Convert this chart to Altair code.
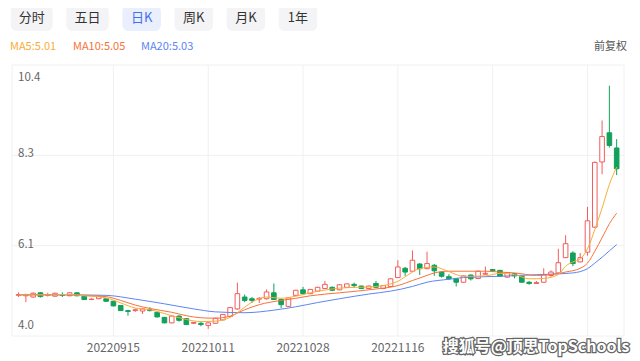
import altair as alt
import pandas as pd

# ---------------- data ----------------
idx = list(range(83))
opens = [4.96, 4.95, 4.92, 5.02, 4.96, 4.94, 4.98, 4.95, 5.02, 4.94,
         4.86, 4.88, 4.88, 4.82, 4.72, 4.60, 4.60, 4.59, 4.62, 4.56,
         4.44, 4.31, 4.47, 4.41, 4.30, 4.30, 4.25, 4.30, 4.38, 4.46,
         4.64, 4.92, 4.88, 4.87, 4.88, 5.02, 4.86, 4.70, 4.96, 5.09,
         5.00, 5.06, 5.12, 5.15, 5.09, 5.15, 5.22, 5.18, 5.12, 5.24,
         5.12, 5.17, 5.38, 5.60, 5.53, 5.70, 5.59, 5.67, 5.51, 5.40,
         5.35, 5.27, 5.44, 5.36, 5.46, 5.57, 5.55, 5.39, 5.47, 5.41,
         5.27, 5.24, 5.27, 5.43, 5.49, 5.85, 5.96, 5.75, 5.98, 6.57,
         8.11, 8.80, 8.44]
closes = [4.98, 4.97, 5.01, 4.93, 4.97, 5.01, 4.96, 5.02, 4.95, 4.86,
          4.87, 4.94, 4.82, 4.71, 4.60, 4.58, 4.62, 4.64, 4.60, 4.45,
          4.31, 4.47, 4.37, 4.27, 4.32, 4.27, 4.31, 4.42, 4.51, 4.67,
          5.00, 4.84, 4.84, 4.89, 5.04, 4.86, 4.74, 4.90, 5.08, 5.00,
          5.10, 5.15, 5.22, 5.08, 5.21, 5.23, 5.19, 5.12, 5.18, 5.15,
          5.19, 5.35, 5.63, 5.51, 5.79, 5.59, 5.71, 5.54, 5.41, 5.35,
          5.27, 5.42, 5.35, 5.53, 5.48, 5.54, 5.41, 5.50, 5.42, 5.27,
          5.24, 5.26, 5.45, 5.51, 5.73, 6.18, 5.71, 5.85, 6.72, 8.10,
          8.71, 8.50, 7.95]
highs = [5.03, 5.00, 5.03, 5.04, 5.02, 5.02, 5.03, 5.03, 5.03, 4.95,
         4.89, 4.95, 4.89, 4.83, 4.73, 4.62, 4.65, 4.66, 4.68, 4.57,
         4.45, 4.48, 4.49, 4.42, 4.33, 4.33, 4.32, 4.43, 4.52, 4.68,
         5.26, 4.98, 4.92, 4.92, 5.10, 5.24, 4.88, 4.91, 5.09, 5.16,
         5.11, 5.16, 5.30, 5.17, 5.22, 5.24, 5.26, 5.19, 5.19, 5.30,
         5.20, 5.36, 5.79, 5.63, 6.02, 5.72, 5.99, 5.70, 5.53, 5.46,
         5.36, 5.43, 5.45, 5.54, 5.64, 5.58, 5.56, 5.51, 5.49, 5.42,
         5.30, 5.30, 5.60, 5.55, 6.06, 6.38, 6.00, 5.96, 7.05, 8.12,
         9.09, 9.91, 8.65]
lows = [4.92, 4.80, 4.90, 4.91, 4.93, 4.93, 4.92, 4.94, 4.94, 4.85,
        4.85, 4.87, 4.81, 4.70, 4.59, 4.48, 4.57, 4.52, 4.58, 4.44,
        4.30, 4.30, 4.34, 4.26, 4.29, 4.23, 4.17, 4.29, 4.37, 4.45,
        4.62, 4.80, 4.78, 4.78, 4.86, 4.85, 4.66, 4.69, 4.94, 4.98,
        4.99, 5.05, 5.11, 5.06, 5.08, 5.14, 5.14, 5.11, 5.11, 5.14,
        5.11, 5.16, 5.37, 5.42, 5.52, 5.44, 5.58, 5.42, 5.38, 5.32,
        5.17, 5.26, 5.31, 5.35, 5.44, 5.51, 5.40, 5.38, 5.36, 5.26,
        5.21, 5.23, 5.26, 5.40, 5.48, 5.84, 5.65, 5.74, 5.90, 6.55,
        7.82, 8.45, 7.80]

ma5_i = [0, 4, 7, 9, 12, 14, 16, 18, 21, 23, 25, 27, 29, 31, 32, 34, 36, 38, 40,
         44, 49, 52, 53, 55, 57, 59, 61, 64, 66, 68, 70, 72, 74, 75, 76, 77, 78,
         79, 80, 81, 82]
ma5_v = [4.97, 4.97, 4.98, 4.95, 4.90, 4.78, 4.66, 4.62, 4.48, 4.39, 4.34, 4.35,
         4.44, 4.68, 4.80, 4.92, 4.89, 4.94, 5.02, 5.13, 5.17, 5.29, 5.40, 5.59,
         5.63, 5.52, 5.41, 5.42, 5.48, 5.45, 5.35, 5.36, 5.45, 5.65, 5.75, 5.82,
         6.06, 6.51, 7.02, 7.58, 7.99]
ma10_i = [0, 6, 10, 12, 14, 16, 18, 21, 23, 25, 27, 29, 31, 33, 36, 38, 40, 44, 49,
          52, 54, 56, 57, 59, 64, 66, 68, 71, 73, 75, 77, 78, 79, 80, 81, 82]
ma10_v = [4.98, 4.98, 4.95, 4.93, 4.84, 4.73, 4.65, 4.56, 4.48, 4.43, 4.42, 4.47,
          4.62, 4.74, 4.84, 4.89, 4.95, 5.02, 5.11, 5.19, 5.31, 5.43, 5.49, 5.53,
          5.53, 5.51, 5.49, 5.43, 5.45, 5.51, 5.60, 5.72, 6.00, 6.32, 6.65, 6.90]
ma20_i = [0, 8, 12, 16, 20, 24, 27, 31, 35, 38, 41, 44, 48, 51, 54, 56, 59, 61, 66,
          70, 73, 76, 77, 78, 79, 80, 81, 82]
ma20_v = [4.97, 4.97, 4.96, 4.87, 4.76, 4.64, 4.57, 4.55, 4.61, 4.69, 4.79, 4.88,
          4.99, 5.06, 5.17, 5.27, 5.34, 5.38, 5.41, 5.44, 5.46, 5.49, 5.52, 5.59,
          5.72, 5.86, 6.01, 6.16]

y_grid = [4.0, 6.1333, 8.2667, 10.4]
y_mid_labels = ["6.1", "8.3"]
y_top_label = "10.4"
y_bottom_label = "4.0"
x_grid_idx = [13, 26, 39, 52, 65, 78]
x_label_idx = [13, 26, 39, 52]
x_labels = ["20220915", "20221011", "20221028", "20221116"]

buttons = ["分时", "五日", "日K", "周K", "月K", "1年"]
selected_button = "日K"
legend_items = ["MA5:5.01", "MA10:5.05", "MA20:5.03"]
right_note = "前复权"
watermark = "搜狐号@顶思TopSchools"

# ---------------- style ----------------
RED = "#f45b5b"
GREEN = "#10a15a"
C_MA5 = "#f8ad3a"
C_MA10 = "#f7733a"
C_MA20 = "#5b86f5"
GRID = "#f0f0f0"
LABEL = "#666666"
FONT = "Noto Sans CJK SC"

W, H = 612, 271
xs = alt.Scale(domain=[-0.216, 82.32], nice=False, zero=False)
ys = alt.Scale(domain=[4.0, 10.4], nice=False, zero=False)
X = lambda f: alt.X(f, scale=xs, axis=None)
Y = lambda f: alt.Y(f, scale=ys, axis=None)

one = pd.DataFrame({"k": [0]})

# grid
hgrid = alt.Chart(pd.DataFrame({"v": y_grid})).mark_rule(color=GRID, strokeWidth=1).encode(y=Y("v:Q"))
vgrid = alt.Chart(pd.DataFrame({"i": x_grid_idx})).mark_rule(color=GRID, strokeWidth=1).encode(x=X("i:Q"))
lborder = alt.Chart(one).mark_rule(color=GRID).encode(x=alt.value(0), y=alt.value(0), y2=alt.value(H))
rborder = alt.Chart(one).mark_rule(color=GRID).encode(x=alt.value(W), y=alt.value(0), y2=alt.value(H))

# candles
cd = pd.DataFrame({"i": idx, "open": opens, "close": closes, "high": highs, "low": lows})
cd["dir"] = ["up" if c >= o else "down" for o, c in zip(opens, closes)]
base = alt.Chart(cd)
wick = base.mark_rule(strokeWidth=1).encode(
    x=X("i:Q"), y=Y("low:Q"), y2="high:Q",
    color=alt.Color("dir:N", scale=alt.Scale(domain=["up", "down"], range=[RED, GREEN]), legend=None),
)
up_body = base.transform_filter("datum.dir == 'up'").mark_bar(
    size=4.6, fill="white", stroke=RED, strokeWidth=1
).encode(x=X("i:Q"), y=Y("open:Q"), y2="close:Q")
down_body = base.transform_filter("datum.dir == 'down'").mark_bar(
    size=4.6, fill=GREEN, stroke=GREEN, strokeWidth=1
).encode(x=X("i:Q"), y=Y("open:Q"), y2="close:Q")

# moving averages
def ma_line(ii, vv, col):
    return alt.Chart(pd.DataFrame({"i": ii, "v": vv})).mark_line(
        color=col, strokeWidth=1, interpolate="monotone"
    ).encode(x=X("i:Q"), y=Y("v:Q"))

ma5 = ma_line(ma5_i, ma5_v, C_MA5)
ma10 = ma_line(ma10_i, ma10_v, C_MA10)
ma20 = ma_line(ma20_i, ma20_v, C_MA20)

# y labels (inside the plot)
ylab_mid = alt.Chart(pd.DataFrame({"v": y_grid[1:3], "t": y_mid_labels})).mark_text(
    align="left", baseline="middle", fontSize=11.5, font=FONT, color=LABEL, dx=0, dy=-1
).encode(x=alt.value(6), y=Y("v:Q"), text="t:N")
ylab_top = alt.Chart(pd.DataFrame({"v": [y_grid[3]], "t": [y_top_label]})).mark_text(
    align="left", baseline="middle", fontSize=11.5, font=FONT, color=LABEL, dy=13
).encode(x=alt.value(6), y=Y("v:Q"), text="t:N")
ylab_bot = alt.Chart(pd.DataFrame({"v": [y_grid[0]], "t": [y_bottom_label]})).mark_text(
    align="left", baseline="middle", fontSize=11.5, font=FONT, color=LABEL, dy=-10
).encode(x=alt.value(6), y=Y("v:Q"), text="t:N")

# x labels
xlab = alt.Chart(pd.DataFrame({"i": x_label_idx, "t": x_labels})).mark_text(
    align="center", baseline="middle", fontSize=12, font=FONT, color=LABEL
).encode(x=X("i:Q"), y=alt.value(H + 12), text="t:N")

# watermark
wm_shadow = alt.Chart(pd.DataFrame({"t": [watermark]})).mark_text(
    align="center", baseline="middle", fontSize=16, fontWeight="bold", font=FONT,
    fill="#555555", stroke="#555555", strokeWidth=2.5, opacity=0.9
).encode(x=alt.value(524), y=alt.value(H + 11), text="t:N")
wm_text = alt.Chart(pd.DataFrame({"t": [watermark]})).mark_text(
    align="center", baseline="middle", fontSize=16, fontWeight="bold", font=FONT, fill="white"
).encode(x=alt.value(524), y=alt.value(H + 11), text="t:N")

# top buttons
btn_layers = []
widths = [42, 42.5, 38.5, 38.5, 38.5, 38.5]
left = -1.3
for lab, w in zip(buttons, widths):
    sel = lab == selected_button
    bg = alt.Chart(one).mark_rect(cornerRadius=6, color="#e9effd" if sel else "#f4f4f6").encode(
        x=alt.value(left), x2=alt.value(left + w), y=alt.value(-60), y2=alt.value(-34)
    )
    tx = alt.Chart(pd.DataFrame({"t": [lab]})).mark_text(
        align="center", baseline="middle", fontSize=13, font=FONT,
        color="#4470ee" if sel else "#333333"
    ).encode(x=alt.value(left + w / 2), y=alt.value(-47), text="t:N")
    btn_layers += [bg, tx]
    left += w + 13.6

# legend row
leg_layers = []
for lab, col, px in zip(legend_items, [C_MA5, C_MA10, C_MA20], [-2, 61, 129]):
    leg_layers.append(alt.Chart(pd.DataFrame({"t": [lab]})).mark_text(
        align="left", baseline="middle", fontSize=11, font=FONT, color=col
    ).encode(x=alt.value(px), y=alt.value(-18), text="t:N"))
leg_layers.append(alt.Chart(pd.DataFrame({"t": [right_note]})).mark_text(
    align="right", baseline="middle", fontSize=11, font=FONT, color="#555555"
).encode(x=alt.value(615), y=alt.value(-18), text="t:N"))

chart = alt.layer(
    hgrid, vgrid, lborder, rborder,
    wick, up_body, down_body,
    ma20, ma10, ma5,
    ylab_mid, ylab_top, ylab_bot, xlab,
    wm_shadow, wm_text,
    *btn_layers, *leg_layers,
).properties(
    width=W, height=H,
    autosize=alt.AutoSizeParams(type="none"),
    padding={"left": 4, "top": 57, "right": 8, "bottom": 25},
    background="white",
).configure_view(stroke=None)

chart.save("out.html", embed_options={"renderer": "svg", "actions": False})
